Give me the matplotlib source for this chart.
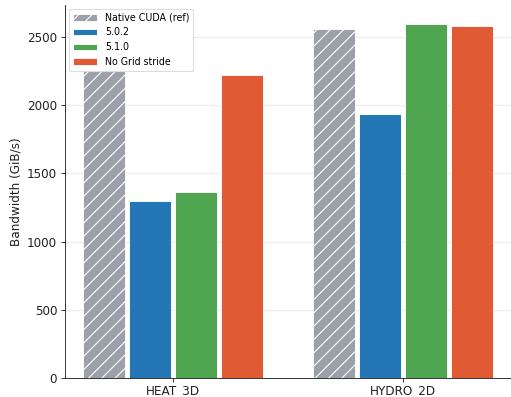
import matplotlib
matplotlib.use("Agg")
import matplotlib.pyplot as plt
import numpy as np

# bandwidth per kernel, GiB/s
kernels = ["HEAT_3D", "HYDRO_2D"]
native_cuda = [2380, 2556]   # HEAT_3D value hidden under the legend
v502 = [1298, 1937]
v510 = [1364, 2595]
no_grid_stride = [2222, 2578]

series = [
    ("Native CUDA (ref)", native_cuda, "#9ca0a8", "//"),
    ("5.0.2", v502, "#2277b4", None),
    ("5.1.0", v510, "#50a550", None),
    ("No Grid stride", no_grid_stride, "#e05a33", None),
]

DPI = 80
fig = plt.figure(figsize=(511 / DPI, 397 / DPI), dpi=DPI)
ax = fig.add_axes([65 / 511, 19 / 397, 446 / 511, 373 / 397])

x = np.arange(len(kernels))
step = 0.2
for i, (name, vals, color, hatch) in enumerate(series):
    off = (i - 1.5) * step
    ax.bar(x + off, vals, width=0.18, color=color, edgecolor="white",
           linewidth=0.8, hatch=hatch, label=name, zorder=3)

ax.set_xlim(-0.47, 1.47)
ax.set_ylim(0, 2735)
ax.set_yticks([0, 500, 1000, 1500, 2000, 2500])
ax.set_xticks(x)
ax.set_xticklabels(kernels)
ax.tick_params(axis="both", labelsize=10.8, colors="#222222")
ax.tick_params(axis="x", pad=2)
ax.set_ylabel("Bandwidth (GiB/s)", fontsize=10.8, color="#222222")
ax.yaxis.grid(True, color="#ececec", linewidth=1.2, zorder=0)
ax.set_axisbelow(True)
for s in ("top", "right"):
    ax.spines[s].set_visible(False)
for s in ("left", "bottom"):
    ax.spines[s].set_color("#222222")

leg = ax.legend(loc="upper left", fontsize=8.6, framealpha=1.0,
                borderaxespad=0.4, handlelength=2.6)
leg.get_frame().set_edgecolor("#dddddd")
leg.set_zorder(5)

fig.savefig("out.png", dpi=DPI)
